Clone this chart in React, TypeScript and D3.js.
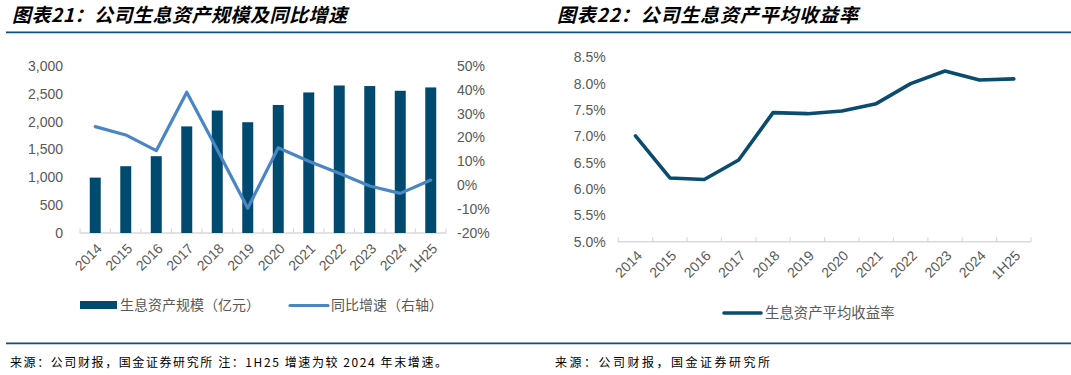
import React from "react";
import * as d3 from "d3";

const years = ["2014", "2015", "2016", "2017", "2018", "2019", "2020", "2021", "2022", "2023", "2024", "1H25"];
const assetScale = [995, 1200, 1380, 1915, 2200, 1990, 2300, 2525, 2650, 2640, 2555, 2615];
const yoyGrowth = [24.6, 21.1, 14.5, 39.0, 14.9, -9.6, 15.7, 10.1, 5.0, -0.3, -3.4, 2.2];
const avgYield = [7.01, 6.21, 6.18, 6.55, 7.45, 7.43, 7.48, 7.62, 8.0, 8.24, 8.07, 8.09];

const leftTicks = [0, 500, 1000, 1500, 2000, 2500, 3000];
const rightTicks = [-20, -10, 0, 10, 20, 30, 40, 50];
const yieldTicks = [5.0, 5.5, 6.0, 6.5, 7.0, 7.5, 8.0, 8.5];

const title1 = "图表21：公司生息资产规模及同比增速";
const title2 = "图表22：公司生息资产平均收益率";
const legendBar = "生息资产规模（亿元）";
const legendLine1 = "同比增速（右轴）";
const legendLine2 = "生息资产平均收益率";
const footer1 = "来源：公司财报，国金证券研究所 注：1H25 增速为较 2024 年末增速。";
const footer2 = "来源：公司财报，国金证券研究所";

const BAR = "#014A6F";
const LINE1 = "#4A85C4";
const LINE2 = "#0A4C70";
const RULE = "#134F76";
const AXIS = "#D9D9D9";
const TXT = "#595959";
const NUM_FONT = "'Liberation Sans', Arial, sans-serif";
const CJK_FONT = "'Noto Sans CJK SC', sans-serif";

export default function App() {
  // Left chart scales
  const xL = d3.scaleBand<string>().domain(years).range([80, 446]).padding(0);
  const bw = xL.bandwidth();
  const barW = bw * 0.36;
  const yL = d3.scaleLinear().domain([0, 3000]).range([233, 66]);
  const yR = d3.scaleLinear().domain([-20, 50]).range([233, 66]);
  const growthLine = d3
    .line<number>()
    .x((_, i) => (xL(years[i]) as number) + bw / 2)
    .y((d) => yR(d))(yoyGrowth) as string;

  // Right chart scales
  const x2 = d3.scaleBand<string>().domain(years).range([618.3, 1031]).padding(0);
  const bw2 = x2.bandwidth();
  const y2 = d3.scaleLinear().domain([5, 8.5]).range([241.7, 57.3]);
  const yieldLine = d3
    .line<number>()
    .x((_, i) => (x2(years[i]) as number) + bw2 / 2)
    .y((d) => y2(d))(avgYield) as string;

  const fmtComma = d3.format(",");
  const fmtPct1 = (v: number) => d3.format(".1f")(v) + "%";

  const tickXs = (scale: d3.ScaleBand<string>) => {
    const arr = years.map((y) => scale(y) as number);
    arr.push(scale.range()[1]);
    return arr;
  };

  return (
    <svg
      width={1071}
      height={375}
      style={{ position: "absolute", left: 0, top: 0, background: "#fff" }}
    >
      <rect x={0} y={0} width={1071} height={375} fill="#fff" />
      {/* Titles */}
      <text x={12} y={22} fontFamily={CJK_FONT} fontWeight={700} fontStyle="italic" fontSize={19} fill="#000" textLength={335} lengthAdjust="spacing">
        {title1}
      </text>
      <text x={557} y={22} fontFamily={CJK_FONT} fontWeight={700} fontStyle="italic" fontSize={19} fill="#000" textLength={301} lengthAdjust="spacing">
        {title2}
      </text>
      <line x1={6} x2={1071} y1={32.3} y2={32.3} stroke={RULE} strokeWidth={1.8} />
      <line x1={6} x2={1071} y1={343.3} y2={343.3} stroke={RULE} strokeWidth={1.8} />

      {/* LEFT CHART */}
      {leftTicks.map((t) => (
        <text key={"l" + t} x={63} y={yL(t)} dy="0.35em" textAnchor="end" fontFamily={NUM_FONT} fontSize={14} fill={TXT}>
          {fmtComma(t)}
        </text>
      ))}
      {rightTicks.map((t) => (
        <text key={"r" + t} x={457} y={yR(t)} dy="0.35em" textAnchor="start" fontFamily={NUM_FONT} fontSize={14} fill={TXT}>
          {t + "%"}
        </text>
      ))}
      <line x1={80} x2={446} y1={233} y2={233} stroke={AXIS} strokeWidth={1.5} />
      {tickXs(xL).map((x, i) => (
        <line key={"lt" + i} x1={x} x2={x} y1={228.5} y2={233.5} stroke={AXIS} strokeWidth={1.2} />
      ))}
      {assetScale.map((v, i) => (
        <rect
          key={"b" + i}
          x={(xL(years[i]) as number) + bw / 2 - barW / 2}
          y={yL(v)}
          width={barW}
          height={yL(0) - yL(v)}
          fill={BAR}
        />
      ))}
      <path d={growthLine} fill="none" stroke={LINE1} strokeWidth={3.2} strokeLinejoin="round" strokeLinecap="round" />
      {years.map((y) => {
        const cx = (xL(y) as number) + bw / 2 + 4;
        return (
          <text key={"lx" + y} transform={`translate(${cx},${246}) rotate(-45)`} textAnchor="end" dy="0.35em" fontFamily={NUM_FONT} fontSize={14} fill={TXT}>
            {y}
          </text>
        );
      })}
      {/* left legend */}
      <rect x={80} y={301} width={37} height={8} fill={BAR} />
      <text x={120} y={310} fontFamily={CJK_FONT} fontSize={14} fill={TXT}>{legendBar}</text>
      <line x1={290} x2={328} y1={305.5} y2={305.5} stroke={LINE1} strokeWidth={3.2} strokeLinecap="round" />
      <text x={331} y={310} fontFamily={CJK_FONT} fontSize={14} fill={TXT}>{legendLine1}</text>

      {/* RIGHT CHART */}
      {yieldTicks.map((t) => (
        <text key={"y" + t} x={605.7} y={y2(t)} dy="0.35em" textAnchor="end" fontFamily={NUM_FONT} fontSize={14} fill={TXT}>
          {fmtPct1(t)}
        </text>
      ))}
      <line x1={618.3} x2={1031} y1={241.7} y2={241.7} stroke={AXIS} strokeWidth={1.5} />
      {tickXs(x2).map((x, i) => (
        <line key={"rt" + i} x1={x} x2={x} y1={237.2} y2={242.2} stroke={AXIS} strokeWidth={1.2} />
      ))}
      <path d={yieldLine} fill="none" stroke={LINE2} strokeWidth={3.6} strokeLinejoin="round" strokeLinecap="round" />
      {years.map((y) => {
        const cx = (x2(y) as number) + bw2 / 2 + 4;
        return (
          <text key={"rx" + y} transform={`translate(${cx},${253}) rotate(-45)`} textAnchor="end" dy="0.35em" fontFamily={NUM_FONT} fontSize={14} fill={TXT}>
            {y}
          </text>
        );
      })}
      <line x1={724} x2={761} y1={313} y2={313} stroke={LINE2} strokeWidth={3.6} strokeLinecap="round" />
      <text x={765} y={318} fontFamily={CJK_FONT} fontSize={14.4} fill={TXT}>{legendLine2}</text>

      {/* Footers */}
      <text x={10} y={367} fontFamily={CJK_FONT} fontSize={12} fill="#000" textLength={437} lengthAdjust="spacing">
        {footer1}
      </text>
      <text x={555} y={367} fontFamily={CJK_FONT} fontSize={12} fill="#000" textLength={215} lengthAdjust="spacing">
        {footer2}
      </text>
    </svg>
  );
}
